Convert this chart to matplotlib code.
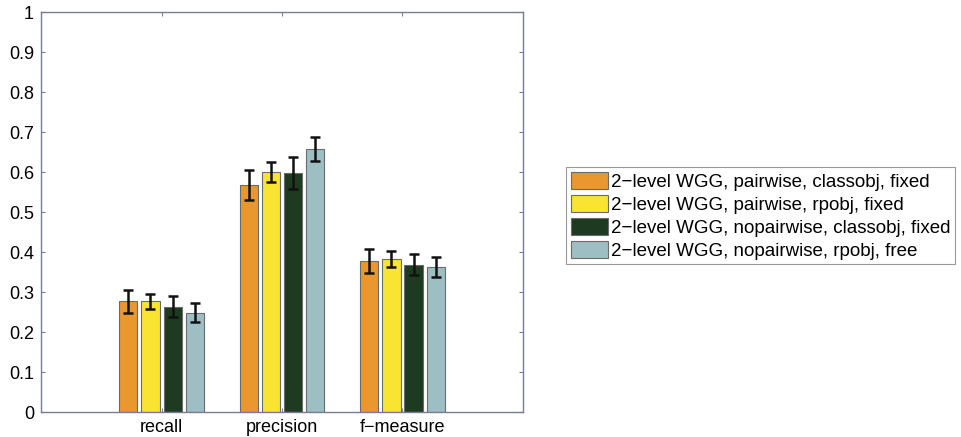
import numpy as np
import matplotlib
matplotlib.use("Agg")
import matplotlib.pyplot as plt

plt.rcParams['font.family'] = ['Liberation Sans', 'DejaVu Sans']

categories = ["recall", "precision", "f\u2212measure"]
series_labels = [
    "2\u2212level WGG, pairwise, classobj, fixed",
    "2\u2212level WGG, pairwise, rpobj, fixed",
    "2\u2212level WGG, nopairwise, classobj, fixed",
    "2\u2212level WGG, nopairwise, rpobj, free",
]
means_pw_class = [0.277, 0.568, 0.377]
means_pw_rp = [0.277, 0.600, 0.382]
means_nopw_class = [0.264, 0.597, 0.369]
means_nopw_rp = [0.249, 0.658, 0.364]
err_pw_class = [0.029, 0.037, 0.030]
err_pw_rp = [0.019, 0.025, 0.020]
err_nopw_class = [0.027, 0.040, 0.027]
err_nopw_rp = [0.024, 0.030, 0.025]
yticks = [0, 0.1, 0.2, 0.3, 0.4, 0.5, 0.6, 0.7, 0.8, 0.9, 1]
ytick_labels = ["0", "0.1", "0.2", "0.3", "0.4", "0.5", "0.6", "0.7", "0.8", "0.9", "1"]

means = [means_pw_class, means_pw_rp, means_nopw_class, means_nopw_rp]
errs = [err_pw_class, err_pw_rp, err_nopw_class, err_nopw_rp]
colors = ["#E8982E", "#F8E431", "#1E3A20", "#9DBFC3"]

fig = plt.figure(figsize=(9.61, 4.37), dpi=100)
ax = fig.add_axes([0.0427, 0.057, 0.5015, 0.915])

x = np.arange(1, len(categories) + 1)
slot = 0.183
width = 0.15
handles = []
for i, (m, e, c) in enumerate(zip(means, errs, colors)):
    xs = x + (i - 1.5) * slot
    b = ax.bar(xs, m, width=width, color=c, edgecolor="#6b6b6b", linewidth=0.8,
               label=series_labels[i], zorder=2)
    ax.errorbar(xs, m, yerr=e, fmt="none", ecolor="#111111", elinewidth=1.8,
                capsize=3.5, capthick=1.8, zorder=3)
    handles.append(b)

ax.set_xlim(0, 4)
ax.set_ylim(0, 1)
ax.set_xticks(x)
ax.set_xticklabels(categories, fontsize=13)
ax.set_yticks(yticks)
ax.set_yticklabels(ytick_labels, fontsize=13)
ax.tick_params(direction="in", length=3, color="#7a7a9a", top=True, right=True, pad=5)
for s in ax.spines.values():
    s.set_color("#7a7a9a")
    s.set_linewidth(1.0)

leg = fig.legend(handles=handles, labels=series_labels, loc="center left",
                 bbox_to_anchor=(0.589, 0.506), fontsize=13.5, frameon=True,
                 fancybox=False, edgecolor="#808080", handlelength=2.0,
                 handleheight=1.05, handletextpad=0.15, labelspacing=0.2,
                 borderpad=0.25, borderaxespad=0)
leg.get_frame().set_linewidth(0.8)

fig.savefig("out.png", dpi=100)
